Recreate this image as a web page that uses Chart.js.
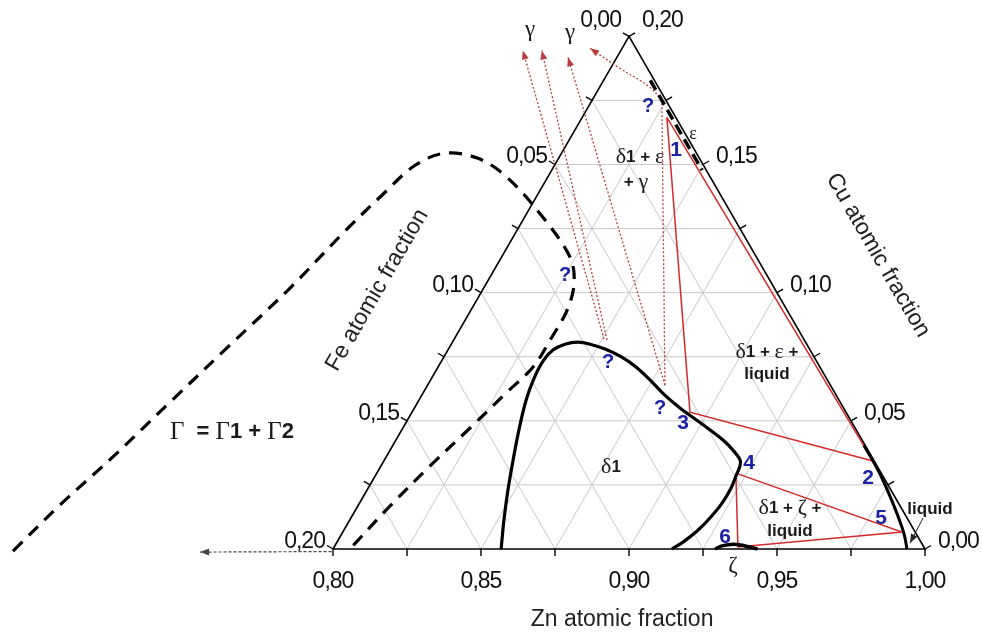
<!DOCTYPE html>
<html>
<head>
<meta charset="utf-8">
<script src="https://cdn.jsdelivr.net/npm/chart.js@4/dist/chart.umd.min.js"></script>
<style>
html,body{margin:0;padding:0;background:#fff;}
#wrap{width:982px;height:632px;position:relative;}
</style>
</head>
<body>
<div id="wrap"><canvas id="c"></canvas></div>
<script>
// ---------- DATA (compositions as [Zn, Cu] atomic fractions; Fe = 1 - Zn - Cu) ----------
const znTicks = [0.80, 0.85, 0.90, 0.95, 1.00];
const znTickLabels = ['0,80', '0,85', '0,90', '0,95', '1,00'];
const feTicks = [0.20, 0.15, 0.10, 0.05, 0.00];
const feTickLabels = ['0,20', '0,15', '0,10', '0,05', '0,00'];
const cuTicks = [0.00, 0.05, 0.10, 0.15, 0.20];
const cuTickLabels = ['0,00', '0,05', '0,10', '0,15', '0,20'];

const delta1Boundary = [
  [0.8568,0.0000],[0.8521,0.0113],[0.8476,0.0230],[0.8435,0.0347],[0.8396,0.0464],
  [0.8362,0.0581],[0.8346,0.0667],[0.8343,0.0733],[0.8355,0.0776],[0.8384,0.0799],
  [0.8424,0.0807],[0.8469,0.0799],[0.8529,0.0780],[0.8594,0.0752],[0.8664,0.0713],
  [0.8742,0.0659],[0.8821,0.0600],[0.8897,0.0550],[0.8970,0.0507],[0.9042,0.0464],
  [0.9105,0.0425],[0.9158,0.0386],[0.9202,0.0347],[0.9213,0.0324],[0.9219,0.0285],
  [0.9226,0.0238],[0.9225,0.0179],[0.9213,0.0121],[0.9195,0.0070],[0.9169,0.0027],
  [0.9145,0.0000]
];
const bigGammaBoundary = [
  [0.6923,-0.0008],[0.6992,0.0172],[0.7080,0.0367],[0.7163,0.0573],[0.7254,0.0795],
  [0.7346,0.1018],[0.7419,0.1236],[0.7477,0.1384],[0.7529,0.1497],[0.7606,0.1544],
  [0.7728,0.1524],[0.7863,0.1450],[0.8062,0.1294],[0.8232,0.1138],[0.8296,0.1037],
  [0.8325,0.0932],[0.8326,0.0815],[0.8321,0.0710],[0.8282,0.0612],[0.8227,0.0472],
  [0.8166,0.0324],[0.8109,0.0168],[0.8057,0.0000]
];
const epsilonBoundary = [[0.8158,0.1828],[0.8508,0.1478]];
const liquidBoundary = [[0.9591,0.0405],[0.9653,0.0343],[0.9716,0.0277],[0.9802,0.0179],[0.9879,0.0086],[0.9911,0.0043],[0.9939,0.0000]];
const zetaBoundary = [[0.9291,0.0000],[0.9308,0.0012],[0.9342,0.0019],[0.9386,0.0012],[0.9434,0.0000]];
const tieTriangle1 = [[0.8286,0.1684],[0.8939,0.0534],[0.9653,0.0343],[0.8286,0.1684]];
const tieTriangle2 = [[0.9213,0.0296],[0.9889,0.0066],[0.9364,0.0008],[0.9213,0.0296]];
const gammaPath1 = [[0.8506,0.0819],[0.7669,0.1945]];
const gammaPath2 = [[0.8518,0.0815],[0.7733,0.1945]];
const gammaPath3 = [[0.8802,0.0639],[0.7835,0.1918]];
const gammaPath4a = [[0.8802,0.0639],[0.8236,0.1750]];
const gammaPath4b = [[0.8236,0.1750],[0.8170,0.1801],[0.8032,0.1875],[0.7892,0.1953]];
const cornerArrow = [[0.8000,-0.0010],[0.7557,-0.0012]];
const liquidArrow = [[0.9933,0.0121],[0.9938,0.0023]];
const frame = [[0.80,0.00],[1.00,0.00],[0.80,0.20],[0.80,0.00]];

// annotations: [text, Zn, Cu]
const phaseLabels = [
  ['δ1 + ε', 0.8273, 0.1528], ['+ γ', 0.8308, 0.1431],
  ['δ1 + ε +', 0.9082, 0.0768], ['liquid', 0.9125, 0.0682],
  ['δ1', 0.8779, 0.0320],
  ['δ1 + ζ +', 0.9464, 0.0160], ['liquid', 0.9509, 0.0070],
  ['liquid', 0.9939, 0.0156]
];
const greekMarks = [['ε', 0.8407, 0.1618, 18], ['ζ', 0.9384, -0.0066, 23], ['γ', 0.7654, 0.2023, 23], ['γ', 0.7795, 0.2012, 23]];
const pointNumbers = [['1',0.8381,0.1556],['2',0.9669,0.0277],['3',0.8937,0.0491],['4',0.9238,0.0335],['5',0.9791,0.0121],['6',0.9301,0.0047]];
const questionMarks = [[0.8201,0.1727],[0.8250,0.1068],[0.8565,0.0729],[0.8830,0.0550]];
const gammaLegend = ['Γ  = Γ1 + Γ2', 0.7221, 0.0456];
const axisTitles = [['Zn atomic fraction', 0.9115, -0.0277, 0], ['Fe atomic fraction', 0.7644, 0.1010, -60], ['Cu atomic fraction', 0.9268, 0.1146, 60]];

// ---------- projection ----------
const SQ = Math.sqrt(3) / 2;
const tern = p => ({ x: p[0] + p[1] / 2, y: p[1] * SQ });
const PPU = 2960;
const X_MIN = 0.8 - 333 / PPU, X_MAX = X_MIN + 982 / PPU;
const Y_MAX = 549 / PPU, Y_MIN = Y_MAX - 632 / PPU;

function P(chart, p) {
  const t = tern(p);
  return [chart.scales.x.getPixelForValue(t.x), chart.scales.y.getPixelForValue(t.y)];
}

function ds(label, arr, o) {
  return Object.assign({
    label, data: arr.map(tern), showLine: true, pointRadius: 0, pointHoverRadius: 0,
    fill: false, borderColor: '#000', borderWidth: 1.5, tension: 0, clip: false
  }, o);
}

const RED = '#d42a2a', DOT = '#b5403f';
const datasets = [
  ds('frame', frame, { borderWidth: 1.6, order: 5 }),
  ds('tie1', tieTriangle1, { borderColor: RED, borderWidth: 1.5, order: 3 }),
  ds('tie2', tieTriangle2, { borderColor: RED, borderWidth: 1.5, order: 3 }),
  ds('delta1', delta1Boundary, { borderWidth: 3.2, tension: 0.35, order: 2 }),
  ds('Gamma', bigGammaBoundary, { borderWidth: 3.2, tension: 0.35, borderDash: [13, 9], order: 2 }),
  ds('eps', epsilonBoundary, { borderWidth: 3.5, borderDash: [11, 6], order: 2 }),
  ds('liq', liquidBoundary, { borderWidth: 3, tension: 0.3, order: 2 }),
  ds('zeta', zetaBoundary, { borderWidth: 3.5, tension: 0.4, order: 2 }),
  ds('g1', gammaPath1, { borderColor: DOT, borderWidth: 1.3, borderDash: [2, 2], arrow: true, order: 4 }),
  ds('g2', gammaPath2, { borderColor: DOT, borderWidth: 1.3, borderDash: [2, 2], arrow: true, order: 4 }),
  ds('g3', gammaPath3, { borderColor: DOT, borderWidth: 1.3, borderDash: [2, 2], arrow: true, order: 4 }),
  ds('g4a', gammaPath4a, { borderColor: DOT, borderWidth: 1.3, borderDash: [2, 2], order: 4 }),
  ds('g4b', gammaPath4b, { borderColor: DOT, borderWidth: 1.3, borderDash: [2, 2], tension: 0.4, arrow: true, order: 4 }),
  ds('corner', cornerArrow, { borderColor: '#444', borderWidth: 1.2, borderDash: [3, 2], arrow: true, order: 4 }),
  ds('liqArrow', liquidArrow, { borderColor: '#222', borderWidth: 1, arrow: true, order: 4 })
];

function drawMixed(ctx, str, x, y, size, align, color, greekScale) {
  const parts = [];
  for (const ch of str) {
    const greek = /[\u0370-\u03FF]/.test(ch);
    parts.push({ ch, font: greek ? `${Math.round(size * (greekScale || 1.1))}px "Liberation Serif"` : `bold ${size}px "Liberation Sans"` });
  }
  let w = 0;
  for (const p of parts) { ctx.font = p.font; p.w = ctx.measureText(p.ch).width; w += p.w; }
  let cx = align === 'center' ? x - w / 2 : align === 'right' ? x - w : x;
  ctx.fillStyle = color; ctx.textBaseline = 'middle'; ctx.textAlign = 'left';
  for (const p of parts) { ctx.font = p.font; ctx.fillText(p.ch, cx, y); cx += p.w; }
}

const ternaryDecor = {
  id: 'ternaryDecor',
  beforeDatasetsDraw(chart) {
    const ctx = chart.ctx;
    ctx.save();
    ctx.strokeStyle = '#c8c8c8'; ctx.lineWidth = 1;
    for (let i = 1; i < 8; i++) {
      const k = i * 0.025;
      const segs = [
        [[0.8, k], [1 - k, k]],
        [[0.8 + k, 0], [0.8 + k, 0.2 - k]],
        [[0.8, 0.2 - k], [1 - k, 0]]
      ];
      for (const s of segs) {
        const a = P(chart, s[0]), b = P(chart, s[1]);
        ctx.beginPath(); ctx.moveTo(a[0], a[1]); ctx.lineTo(b[0], b[1]); ctx.stroke();
      }
    }
    ctx.restore();
  },
  afterDatasetsDraw(chart) {
    const ctx = chart.ctx;
    ctx.save();
    chart.data.datasets.forEach((d, i) => {
      if (!d.arrow) return;
      const pts = chart.getDatasetMeta(i).data;
      const a = pts[pts.length - 2], b = pts[pts.length - 1];
      const ang = Math.atan2(b.y - a.y, b.x - a.x);
      const L = 9, W = 3.5;
      ctx.fillStyle = d.borderColor;
      ctx.beginPath();
      ctx.moveTo(b.x, b.y);
      ctx.lineTo(b.x - L * Math.cos(ang) + W * Math.sin(ang), b.y - L * Math.sin(ang) - W * Math.cos(ang));
      ctx.lineTo(b.x - L * Math.cos(ang) - W * Math.sin(ang), b.y - L * Math.sin(ang) + W * Math.cos(ang));
      ctx.closePath(); ctx.fill();
    });
    const TL = 7;
    const dirs = { b: [0, 1], l: [-SQ, -0.5], r: [SQ, -0.5] };
    ctx.strokeStyle = '#000'; ctx.lineWidth = 1.4;
    for (let i = 0; i <= 8; i++) {
      const v = i * 0.025;
      const list = [[P(chart, [0.8 + v, 0]), dirs.b], [P(chart, [0.8, 0.2 - v]), dirs.l], [P(chart, [1 - v, v]), dirs.r]];
      for (const [p, d] of list) {
        ctx.beginPath(); ctx.moveTo(p[0], p[1]); ctx.lineTo(p[0] + d[0] * TL, p[1] + d[1] * TL); ctx.stroke();
      }
    }
    ctx.fillStyle = '#111';
    ctx.font = '23px "Liberation Sans"';
    ctx.letterSpacing = '-1px';
    ctx.textBaseline = 'middle';
    znTicks.forEach((v, i) => {
      const p = P(chart, [v, 0]);
      ctx.textAlign = 'center';
      ctx.fillText(znTickLabels[i], p[0], p[1] + 33);
    });
    feTicks.forEach((v, i) => {
      const p = P(chart, [0.8, 0.2 - v]);
      const ex = p[0] + dirs.l[0] * TL, ey = p[1] + dirs.l[1] * TL;
      ctx.textAlign = 'right';
      ctx.fillText(feTickLabels[i], ex - 2, ey - 4 - (v === 0 ? 8 : 0));
    });
    cuTicks.forEach((v, i) => {
      const p = P(chart, [1 - v, v]);
      const ex = p[0] + dirs.r[0] * TL, ey = p[1] + dirs.r[1] * TL;
      ctx.textAlign = 'left';
      ctx.fillText(cuTickLabels[i], ex + 7, ey - 4 - (v === 0.2 ? 8 : 0));
    });
    ctx.letterSpacing = '0px';
    ctx.font = '23px "Liberation Sans"';
    ctx.fillStyle = '#222';
    ctx.textAlign = 'center';
    for (const [t, z, c, rot] of axisTitles) {
      const p = P(chart, [z, c]);
      ctx.save(); ctx.translate(p[0], p[1]); ctx.rotate(rot * Math.PI / 180);
      ctx.fillText(t, 0, 0); ctx.restore();
    }
    for (const [t, z, c] of phaseLabels) {
      const p = P(chart, [z, c]);
      drawMixed(ctx, t, p[0], p[1], 17, 'center', '#1a1a1a', 1.3);
    }
    for (const [t, z, c, s] of greekMarks) {
      const p = P(chart, [z, c]);
      drawMixed(ctx, t, p[0], p[1], s, 'center', '#1a1a1a', 1);
    }
    {
      const p = P(chart, [gammaLegend[1], gammaLegend[2]]);
      drawMixed(ctx, gammaLegend[0], p[0], p[1], 22, 'left', '#1a1a1a', 1.15);
    }
    ctx.fillStyle = '#1c22a6';
    ctx.textAlign = 'center'; ctx.textBaseline = 'middle';
    ctx.font = 'bold 21px "Liberation Sans"';
    for (const [t, z, c] of pointNumbers) {
      const p = P(chart, [z, c]);
      ctx.fillText(t, p[0], p[1]);
    }
    ctx.font = 'bold 20px "Liberation Sans"';
    for (const [z, c] of questionMarks) {
      const p = P(chart, [z, c]);
      ctx.fillText('?', p[0], p[1]);
    }
    ctx.restore();
  }
};

new Chart(document.getElementById('c'), {
  type: 'scatter',
  data: { datasets },
  options: {
    responsive: true, maintainAspectRatio: false, animation: false, events: [],
    layout: { padding: 0 },
    plugins: { legend: { display: false }, tooltip: { enabled: false } },
    scales: {
      x: { type: 'linear', display: false, min: X_MIN, max: X_MAX },
      y: { type: 'linear', display: false, min: Y_MIN, max: Y_MAX }
    },
    elements: { point: { radius: 0 } }
  },
  plugins: [ternaryDecor]
});
</script>
</body>
</html>
